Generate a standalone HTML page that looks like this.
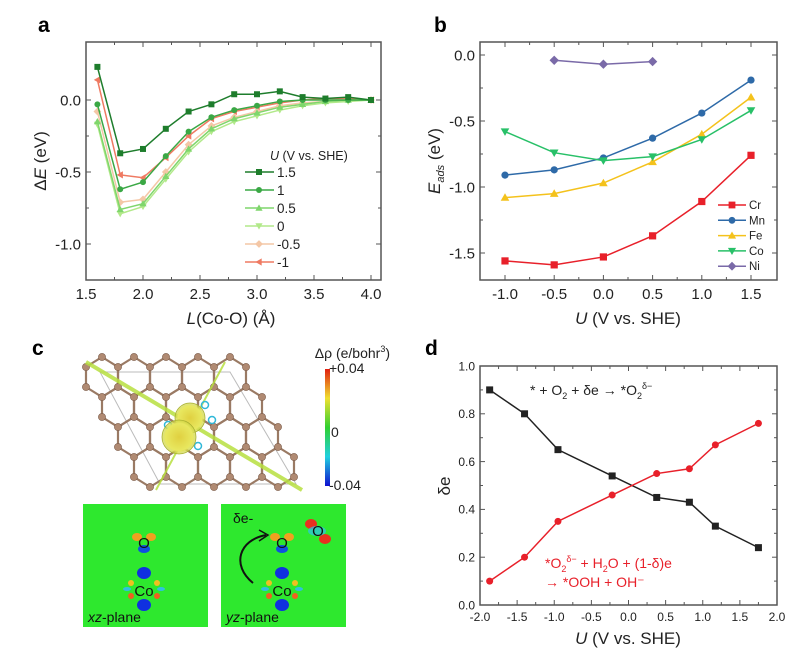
<!DOCTYPE html>
<html><head><meta charset="utf-8">
<style>
body{margin:0;background:#fff;}
svg{display:block;font-family:"Liberation Sans",sans-serif;}
</style></head>
<body>
<svg id="fig" width="801" height="664" viewBox="0 0 801 664">
<defs>
<linearGradient id="cbar" x1="0" y1="0" x2="0" y2="1">
<stop offset="0" stop-color="#e02010"/><stop offset="0.25" stop-color="#f0e030"/><stop offset="0.5" stop-color="#30d030"/><stop offset="0.75" stop-color="#20d0e0"/><stop offset="1" stop-color="#1010d0"/>
</linearGradient>
<radialGradient id="blob"><stop offset="0" stop-color="#e0d040"/><stop offset="0.8" stop-color="#e8e860"/><stop offset="1" stop-color="#c8d040" stop-opacity="0.6"/></radialGradient>
</defs>
<text x="38" y="32" font-size="21" font-weight="bold">a</text>
<text x="434" y="32" font-size="21" font-weight="bold">b</text>
<text x="32" y="355" font-size="21" font-weight="bold">c</text>
<text x="425" y="355" font-size="21" font-weight="bold">d</text>
<g id="pa"></g><g id="pb"></g><g id="pd"></g><g id="pc"></g>
</svg>
<script>
const NS="http://www.w3.org/2000/svg";
function mk(p,tag,at,txt){const e=document.createElementNS(NS,tag);for(const k in at)e.setAttribute(k,at[k]);if(txt!==undefined)e.textContent=txt;p.appendChild(e);return e;}

// ---- Panel a data ----
const aX=[1.6,1.8,2.0,2.2,2.4,2.6,2.8,3.0,3.2,3.4,3.6,3.8,4.0];
const aU15=[0.23,-0.37,-0.34,-0.20,-0.08,-0.03,0.04,0.04,0.06,0.02,0.01,0.02,0.0];
const aU1=[-0.03,-0.62,-0.57,-0.39,-0.22,-0.12,-0.07,-0.04,-0.01,0.0,0.0,0.0,0.0];
const aU05=[-0.15,-0.76,-0.72,-0.53,-0.34,-0.20,-0.13,-0.09,-0.05,-0.03,-0.01,0.0,0.0];
const aU0=[-0.17,-0.79,-0.74,-0.55,-0.36,-0.22,-0.15,-0.11,-0.07,-0.04,-0.02,-0.01,0.0];
const aUm05=[-0.08,-0.71,-0.69,-0.50,-0.31,-0.18,-0.12,-0.08,-0.04,-0.02,-0.01,0.0,0.0];
const aUm1=[0.14,-0.52,-0.54,-0.40,-0.25,-0.13,-0.08,-0.05,-0.02,0.0,0.01,0.01,0.0];
const aLegend=["1.5","1","0.5","0","-0.5","-1"];
const aXTicks=[1.5,2.0,2.5,3.0,3.5,4.0];
const aYTicks=[0.0,-0.5,-1.0];

// ---- Panel b data ----
const bX=[-1,-0.5,0,0.5,1,1.5];
const bCr=[-1.56,-1.59,-1.53,-1.37,-1.11,-0.76];
const bMn=[-0.91,-0.87,-0.78,-0.63,-0.44,-0.19];
const bFe=[-1.08,-1.05,-0.97,-0.81,-0.60,-0.32];
const bCo=[-0.58,-0.74,-0.80,-0.77,-0.64,-0.42];
const bNiX=[-0.5,0,0.5];
const bNi=[-0.04,-0.07,-0.05];
const bLegend=["Cr","Mn","Fe","Co","Ni"];
const bXTicks=[-1.0,-0.5,0.0,0.5,1.0,1.5];
const bYTicks=[0.0,-0.5,-1.0,-1.5];

// ---- Panel d data ----
const dX=[-1.87,-1.4,-0.95,-0.22,0.38,0.82,1.17,1.75];
const dBlack=[0.90,0.80,0.65,0.54,0.45,0.43,0.33,0.24];
const dRed=[0.10,0.20,0.35,0.46,0.55,0.57,0.67,0.76];
const dXTicks=[-2.0,-1.5,-1.0,-0.5,0.0,0.5,1.0,1.5,2.0];
const dYTicks=[0.0,0.2,0.4,0.6,0.8,1.0];

function lin(d0,d1,r0,r1){return v=>r0+(v-d0)/(d1-d0)*(r1-r0);}

function marker(g,type,x,y,c,s){
  let e;
  if(type==="sq")e=mk(g,"rect",{x:x-s,y:y-s,width:2*s,height:2*s,fill:c});
  else if(type==="ci")e=mk(g,"circle",{cx:x,cy:y,r:s,fill:c});
  else if(type==="tu")e=mk(g,"polygon",{points:`${x},${y-s*1.2} ${x-s*1.2},${y+s*0.9} ${x+s*1.2},${y+s*0.9}`,fill:c});
  else if(type==="td")e=mk(g,"polygon",{points:`${x},${y+s*1.2} ${x-s*1.2},${y-s*0.9} ${x+s*1.2},${y-s*0.9}`,fill:c});
  else if(type==="di")e=mk(g,"polygon",{points:`${x},${y-s*1.3} ${x+s*1.3},${y} ${x},${y+s*1.3} ${x-s*1.3},${y}`,fill:c});
  else if(type==="tl")e=mk(g,"polygon",{points:`${x-s*1.2},${y} ${x+s*0.9},${y-s*1.2} ${x+s*0.9},${y+s*1.2}`,fill:c});
  return e;
}

function axes(g,box,sx,sy,xt,yt,fs,fmt,minorX,minorY,name){
  const fr=mk(g,"rect",{x:box[0],y:box[1],width:box[2]-box[0],height:box[3]-box[1],fill:"none",stroke:"#555","stroke-width":1.5});
  
  
  xt.forEach((t,i)=>{
    const x=sx(t);
    mk(g,"line",{x1:x,x2:x,y1:box[3],y2:box[3]-5,stroke:"#555"});
    mk(g,"line",{x1:x,x2:x,y1:box[1],y2:box[1]+5,stroke:"#555"});
    const tx=mk(g,"text",{x:x,y:box[3]+fs+4,"font-size":fs,"text-anchor":"middle",fill:"#222"},fmt(t));
    
    
    if(minorX&&i<xt.length-1){const m=sx((t+xt[i+1])/2);mk(g,"line",{x1:m,x2:m,y1:box[3],y2:box[3]-3,stroke:"#555"});mk(g,"line",{x1:m,x2:m,y1:box[1],y2:box[1]+3,stroke:"#555"});}
  });
  yt.forEach((t,i)=>{
    const y=sy(t);
    mk(g,"line",{x1:box[0],x2:box[0]+5,y1:y,y2:y,stroke:"#555"});
    mk(g,"line",{x1:box[2],x2:box[2]-5,y1:y,y2:y,stroke:"#555"});
    const ty=mk(g,"text",{x:box[0]-5,y:y+fs*0.36,"font-size":fs,"text-anchor":"end",fill:"#222"},fmt(t));
    
    
    if(minorY&&i<yt.length-1){const m=sy((t+yt[i+1])/2);mk(g,"line",{x1:box[0],x2:box[0]+3,y1:m,y2:m,stroke:"#555"});mk(g,"line",{x1:box[2],x2:box[2]-3,y1:m,y2:m,stroke:"#555"});}
  });
}
function fmt1(v){return (v<0?"-":"")+Math.abs(v).toFixed(1);}

function series(g,xs,ys,sx,sy,col,mt,ms,name){
  const pts=xs.map((x,i)=>sx(x)+","+sy(ys[i])).join(" ");
  const pl=mk(g,"polyline",{points:pts,fill:"none",stroke:col,"stroke-width":1.5});
  
  
  xs.forEach((x,i)=>{const m=marker(g,mt,sx(x),sy(ys[i]),col,ms);
    
    });
}

// ===== Panel a =====
(function(){
  const g=document.getElementById("pa");
  const box=[86,42,381,280];
  const sx=lin(1.5,4.0,86,371), sy=lin(0,-1.0,100,244);
  axes(g,box,sx,sy,aXTicks,aYTicks,15,fmt1,true,true,"panel-a");
  const sets=[aU15,aU1,aU05,aU0,aUm05,aUm1];
  const cols=["#1e7d2c","#3aa845","#7fd66c","#b2e98a","#f4c7a6","#ef7a62"];
  const mts=["sq","ci","tu","td","di","tl"];
  for(let k=sets.length-1;k>=0;k--) series(g,aX,sets[k],sx,sy,cols[k],mts[k],3,"series-u-"+aLegend[k]);
  const lt=mk(g,"text",{x:270,y:160,"font-size":12.5,fill:"#222"});
  
  
  lt.innerHTML='<tspan font-style="italic">U</tspan> (V vs. SHE)';
  aLegend.forEach((l,k)=>{
    const y=172+k*18;
    const le=mk(g,"g",{});
    
    
    mk(le,"line",{x1:245,x2:274,y1:y,y2:y,stroke:cols[k],"stroke-width":1.5});
    marker(le,mts[k],259,y,cols[k],3);
    mk(le,"text",{x:277,y:y+5,"font-size":13.5,fill:"#222"},l);
  });
  const yl=mk(g,"text",{transform:"translate(46,161) rotate(-90)","font-size":17,"text-anchor":"middle",fill:"#222"});
  
  
  yl.innerHTML='Δ<tspan font-style="italic">E</tspan> (eV)';
  const xl=mk(g,"text",{x:231,y:324,"font-size":17,"text-anchor":"middle",fill:"#222"});
  
  
  xl.innerHTML='<tspan font-style="italic">L</tspan>(Co-O) (Å)';
})();

// ===== Panel b =====
(function(){
  const g=document.getElementById("pb");
  const box=[480,42,777,280];
  const sx=lin(-1,1.5,505,751), sy=lin(0,-1.5,55,253);
  axes(g,box,sx,sy,bXTicks,bYTicks,15,fmt1,true,true,"panel-b");
  const sets=[bCr,bMn,bFe,bCo];
  const cols=["#e8202a","#2e6aa8","#f4c21c","#28c068","#7a6aa8"];
  const mts=["sq","ci","tu","td","di"];
  sets.forEach((s,k)=>series(g,bX,s,sx,sy,cols[k],mts[k],3.6,"series-"+bLegend[k].toLowerCase()));
  series(g,bNiX,bNi,sx,sy,cols[4],"di",3.6,"series-ni");
  bLegend.forEach((l,k)=>{
    const y=205+k*15.3;
    const le=mk(g,"g",{});
    
    
    mk(le,"line",{x1:718,x2:746,y1:y,y2:y,stroke:cols[k],"stroke-width":1.5});
    marker(le,mts[k],732,y,cols[k],3.4);
    mk(le,"text",{x:749,y:y+4,"font-size":11.5,fill:"#222"},l);
  });
  const yl=mk(g,"text",{transform:"translate(440,161) rotate(-90)","font-size":17,"text-anchor":"middle",fill:"#222"});
  
  
  yl.innerHTML='<tspan font-style="italic">E</tspan><tspan font-style="italic" font-size="11" dy="4">ads</tspan><tspan dy="-4"> (eV)</tspan>';
  const xl=mk(g,"text",{x:628,y:324,"font-size":17,"text-anchor":"middle",fill:"#222"});
  
  
  xl.innerHTML='<tspan font-style="italic">U</tspan> (V vs. SHE)';
})();

// ===== Panel d =====
(function(){
  const g=document.getElementById("pd");
  const box=[480,366,777,605];
  const sx=lin(-2,2,480,777), sy=lin(0,1,605,366);
  axes(g,box,sx,sy,dXTicks,dYTicks,12,fmt1,true,true,"panel-d");
  series(g,dX,dBlack,sx,sy,"#222","sq",3.5,"series-o2-adsorption");
  series(g,dX,dRed,sx,sy,"#e8202a","ci",3.5,"series-ooh-formation");
  const t1=mk(g,"text",{x:530,y:395,"font-size":14,fill:"#222"});
  
  
  t1.innerHTML='* + O<tspan font-size="9" dy="4">2</tspan><tspan dy="-4"> + δe → *O</tspan><tspan font-size="9" dy="4">2</tspan><tspan font-size="9" dy="-10">δ−</tspan>';
  const t2=mk(g,"text",{x:545,y:568,"font-size":14,fill:"#e8202a"});
  
  
  t2.innerHTML='*O<tspan font-size="9" dy="4">2</tspan><tspan font-size="9" dy="-10">δ−</tspan><tspan dy="6"> + H</tspan><tspan font-size="9" dy="4">2</tspan><tspan dy="-4">O + (1-δ)e</tspan>';
  const t3=mk(g,"text",{x:545,y:587,"font-size":14,fill:"#e8202a"},"→ *OOH + OH⁻");
  
  
  const yl=mk(g,"text",{transform:"translate(450,486) rotate(-90)","font-size":17,"text-anchor":"middle",fill:"#222"},"δe");
  
  
  const xl=mk(g,"text",{x:628,y:644,"font-size":17,"text-anchor":"middle",fill:"#222"});
  
  
  xl.innerHTML='<tspan font-style="italic">U</tspan> (V vs. SHE)';
})();

// ===== Panel c (structure illustration) =====
(function(){
  const g=document.getElementById("pc");
  const lat=mk(g,"g",{});
  
  
  mk(lat,"polygon",{points:"100,372 230,372 296,484 160,484",fill:"none",stroke:"#bbb","stroke-width":1});
  const w=32,h=20,rowH=30;
  const atoms=new Set();
  for(let r=0;r<4;r++){
    for(let c=0;c<5;c++){
      const cx=102+c*w+r*w/2, cy=377+r*rowH;
      const v=[[cx,cy-h],[cx+w/2,cy-h/2],[cx+w/2,cy+h/2],[cx,cy+h],[cx-w/2,cy+h/2],[cx-w/2,cy-h/2]];
      mk(lat,"polygon",{points:v.map(p=>p.join(",")).join(" "),fill:"none",stroke:"#9a7a64","stroke-width":2.2});
      v.forEach(p=>atoms.add(p[0].toFixed(1)+","+p[1].toFixed(1)));
    }
  }
  atoms.forEach(a=>{const [x,y]=a.split(",").map(Number);mk(lat,"circle",{cx:x,cy:y,r:3.6,fill:"#b08a72",stroke:"#7a5a48","stroke-width":0.6});});
  const pl=mk(g,"line",{x1:86,y1:362,x2:302,y2:490,stroke:"#b8e040","stroke-width":4,opacity:0.85});
  
  
  const pl2=mk(g,"line",{x1:225,y1:362,x2:156,y2:490,stroke:"#b8e040","stroke-width":2,opacity:0.85});
  
  
  [[197,419,3],[184,437,3],[168,425,2.5],[212,420,2.5],[205,405,2.5],[198,446,2.5]].forEach(p=>mk(g,"circle",{cx:p[0],cy:p[1],r:p[2]+1,fill:"none",stroke:"#30b8d8","stroke-width":1.5}));
  const b1=mk(g,"circle",{cx:190,cy:418,r:15,fill:"url(#blob)",stroke:"#a8b030","stroke-width":0.8});
  
  
  const b2=mk(g,"circle",{cx:179,cy:437,r:17,fill:"url(#blob)",stroke:"#a8b030","stroke-width":0.8});
  
  
  const cb=mk(g,"rect",{x:325,y:369,width:5,height:117,fill:"url(#cbar)"});
  
  
  const ct=mk(g,"text",{x:390,y:358,"font-size":14,"text-anchor":"end",fill:"#222"});
  
  
  ct.innerHTML='Δρ (e/bohr<tspan font-size="9" dy="-6">3</tspan><tspan dy="6">)</tspan>';
  [["+0.04",373],["0",437],["-0.04",490]].forEach(t=>{const e=mk(g,"text",{x:t[0]==="0"?331:329,y:t[1],"font-size":14,fill:"#222"},t[0]);
    
    });
  function slice(x0,label,ital,yz){
    const s=mk(g,"g",{});
    
    
    mk(s,"rect",{x:x0,y:504,width:125,height:123,fill:"#2ee82e"});
    const cx=x0+61;
    mk(s,"ellipse",{cx:cx-7,cy:537,rx:5,ry:4,fill:"#f0a020"});mk(s,"ellipse",{cx:cx+7,cy:537,rx:5,ry:4,fill:"#f0a020"});
    mk(s,"ellipse",{cx:cx,cy:549,rx:6,ry:4,fill:"#1050e0"});
    mk(s,"ellipse",{cx:cx,cy:573,rx:7,ry:6,fill:"#1030e0"});
    mk(s,"ellipse",{cx:cx,cy:605,rx:7,ry:6,fill:"#1030e0"});
    mk(s,"ellipse",{cx:cx-13,cy:583,rx:3,ry:3,fill:"#f0c020"});mk(s,"ellipse",{cx:cx+13,cy:583,rx:3,ry:3,fill:"#f0c020"});
    mk(s,"ellipse",{cx:cx-13,cy:596,rx:3,ry:3,fill:"#f06020"});mk(s,"ellipse",{cx:cx+13,cy:596,rx:3,ry:3,fill:"#f06020"});
    mk(s,"ellipse",{cx:cx-17,cy:589,rx:4,ry:2,fill:"#30c0e0"});mk(s,"ellipse",{cx:cx+17,cy:589,rx:4,ry:2,fill:"#30c0e0"});
    mk(s,"text",{x:cx,y:548,"font-size":15,"text-anchor":"middle",fill:"#111"},"O");
    mk(s,"text",{x:cx,y:596,"font-size":15,"text-anchor":"middle",fill:"#111"},"Co");
    const t=mk(s,"text",{x:x0+5,y:622,"font-size":14,fill:"#111"});
    t.innerHTML='<tspan font-style="italic">'+ital+'</tspan>-plane';
    if(yz){
      mk(s,"ellipse",{cx:x0+90,cy:524,rx:6,ry:5,fill:"#e83020"});
      mk(s,"ellipse",{cx:x0+104,cy:539,rx:6,ry:5,fill:"#e83020"});
      mk(s,"ellipse",{cx:x0+96,cy:531,rx:9,ry:5,fill:"#30c0f0",opacity:0.7});
      mk(s,"text",{x:x0+97,y:536,"font-size":15,"text-anchor":"middle",fill:"#111"},"O");
      mk(s,"text",{x:x0+12,y:523,"font-size":14,fill:"#111"},"δe-");
      mk(s,"path",{d:`M${x0+32},${583} C${x0+10},${565} ${x0+18},${540} ${x0+45},${535}`,fill:"none",stroke:"#111","stroke-width":2});
      mk(s,"path",{d:`M${x0+38},${530} L${x0+47},${535} L${x0+38},${541}`,fill:"none",stroke:"#111","stroke-width":1.5});
    }
  }
  slice(83,"xz","xz",false);
  slice(221,"yz","yz",true);
})();
</script>
</body></html>
